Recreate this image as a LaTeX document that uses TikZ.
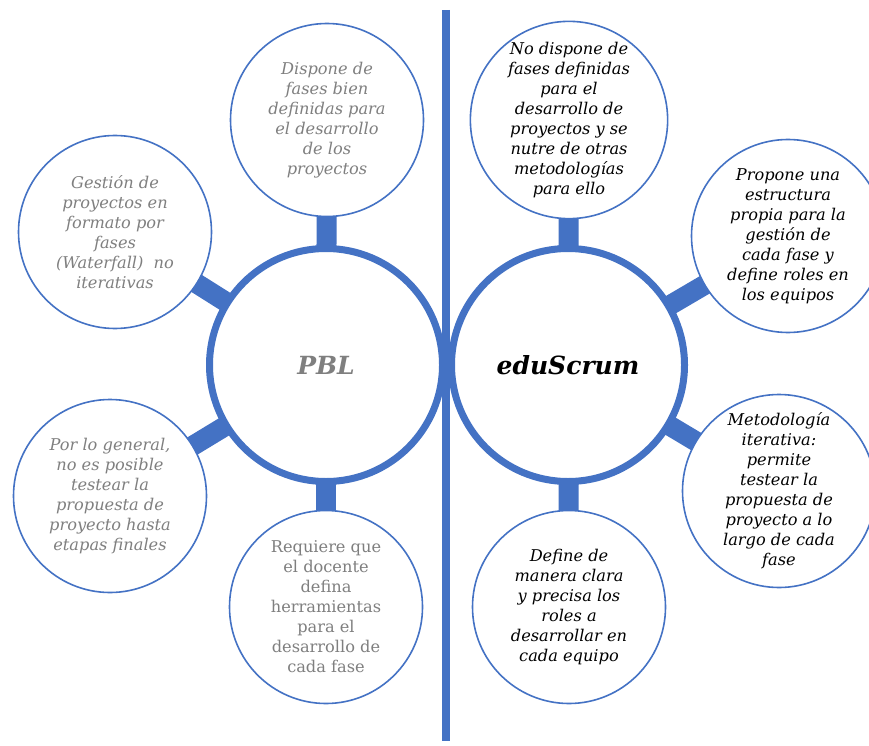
\documentclass[tikz,border=0pt]{standalone}
\usepackage{fontspec}
\setmainfont{DejaVu Serif}
\usetikzlibrary{backgrounds}
\definecolor{obl}{HTML}{4472C4}
\definecolor{tgray}{HTML}{7F7F7F}
\begin{document}
\begin{tikzpicture}[x=1pt,y=-1pt,
  maincirc/.style={circle, draw=obl, line width=7pt, fill=white, minimum size=233pt, inner sep=0pt,
    font=\fontsize{25}{30}\selectfont\bfseries\itshape},
  sat/.style={circle, draw=obl, line width=1.6pt, fill=white, minimum size=193pt, inner sep=0pt,
    align=center, font=\fontsize{16.2}{20}\selectfont\itshape},
  pbltxt/.style={text=tgray},
  edutxt/.style={text=black},
  stub/.style={draw=obl, line width=20pt, shorten <=-4pt, shorten >=-4pt},
  divider/.style={draw=obl, line width=8pt}]
\useasboundingbox (0,0) rectangle (869,746);

\coordinate (divtop) at (446,10);
\coordinate (divbot) at (446,741);

% main circles
\node[maincirc, text=tgray] (pbl) at (326,365) {PBL};
\node[maincirc, text=black] (edu) at (568,365) {eduScrum};

% PBL satellites
\node[sat, pbltxt] (p1) at (327,120) {Dispone de\\fases bien\\definidas para\\el desarrollo\\de los\\proyectos};
\node[sat, pbltxt] (p2) at (115,232) {Gestión de\\proyectos en\\formato por\\fases\\(Waterfall)~ no\\iterativas};
\node[sat, pbltxt] (p3) at (110,496) {Por lo general,\\no es posible\\testear la\\propuesta de\\proyecto hasta\\etapas finales};
\node[sat, pbltxt, font=\fontsize{16.2}{20}\selectfont\upshape] (p4) at (326,607) {Requiere que\\el docente\\defina\\herramientas\\para el\\desarrollo de\\cada fase};

% eduScrum satellites
\node[sat, edutxt] (e1) at (569,120) {No dispone de\\fases definidas\\para el\\desarrollo de\\proyectos y se\\nutre de otras\\metodologías\\para ello};
\node[sat, edutxt] (e2) at (788,236) {Propone una\\estructura\\propia para la\\gestión de\\cada fase y\\define roles en\\los equipos};
\node[sat, edutxt] (e3) at (779,491) {Metodología\\iterativa:\\permite\\testear la\\propuesta de\\proyecto a lo\\largo de cada\\fase};
\node[sat, edutxt] (e4) at (569,607) {Define de\\manera clara\\y precisa los\\roles a\\desarrollar en\\cada equipo};

\begin{scope}[on background layer]
  \draw[divider] (divtop) -- (divbot);
  \draw[stub] (pbl) -- (p1);
  \draw[stub] (pbl) -- (p2);
  \draw[stub] (pbl) -- (p3);
  \draw[stub] (pbl) -- (p4);
  \draw[stub] (edu) -- (e1);
  \draw[stub] (edu) -- (e2);
  \draw[stub] (edu) -- (e3);
  \draw[stub] (edu) -- (e4);
\end{scope}
\end{tikzpicture}
\end{document}
